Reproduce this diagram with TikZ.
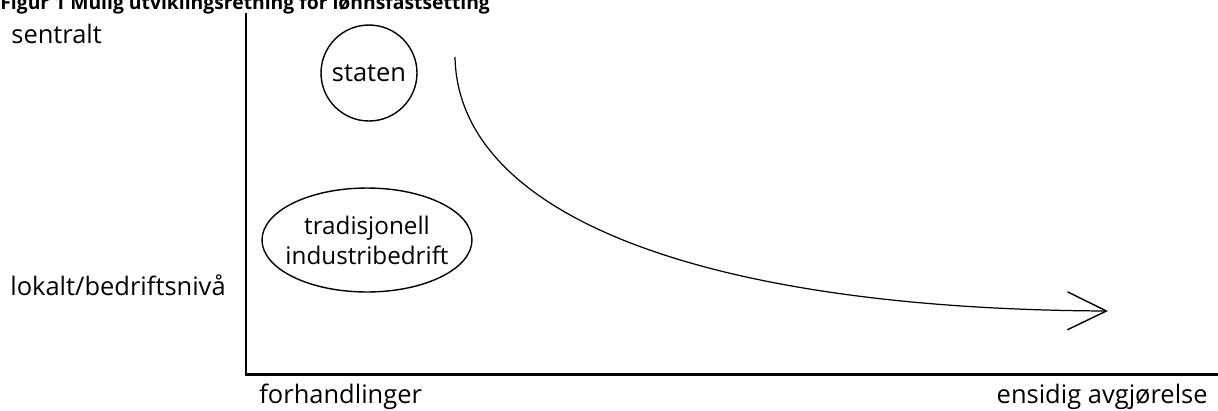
\documentclass[tikz,border=0pt]{standalone}
\usepackage{fontspec}
\setmainfont{Open Sans}
\usetikzlibrary{arrows.meta, positioning, shapes.geometric}
\tikzset{
  every picture/.style={font=\fontsize{14.5}{17}\selectfont},
  axis/.style={line width=1.7pt},
  blob/.style={draw, line width=0.8pt, align=center, inner sep=0pt},
  label/.style={inner sep=0pt},
  trend/.style={-{Straight Barb[length=0.78cm, width=0.76cm, line width=0.8pt]}, line width=0.7pt},
}

\begin{document}
\begin{tikzpicture}[x=0.02cm, y=-0.02cm]
  \useasboundingbox (0,0) rectangle (1218,410);
  % title, cut off at the top edge
  \node[label, anchor=base west, font=\fontsize{11}{13}\selectfont\bfseries] (title) at (0,9) {Figur 1 Mulig utviklingsretning for lønnsfastsetting};
  % axes
  \coordinate (top) at (246,13);
  \coordinate (origin) at (246,374);
  \coordinate (right) at (1218,374);
  \draw[axis] (top) -- (origin) -- (right);
  % axis texts
  \node[label, anchor=base west] (sentral) at (11,43) {sentralt};
  \node[label, anchor=base west] (lokal) at (10,295) {lokalt/bedriftsnivå};
  \node[label, anchor=base west] (forh) at (259,403) {forhandlinger};
  \node[label, anchor=base east] (ensidig) at (1208,403) {ensidig avgjørelse};
  % the two actors
  \node[blob, circle, minimum size=1.92cm] (staten) at (369,73) {staten};
  \node[blob, ellipse, inner xsep=-0.3cm, minimum width=4.2cm, minimum height=2.08cm,
        font=\fontsize{13.8}{17}\selectfont] (bedrift) at (367,240) {tradisjonell\\industribedrift};
  % direction of change
  \coordinate (start) at (455,57);
  \coordinate (end) at (1108,311);
  \draw[trend] (start) .. controls (458,215) and (700,309) .. (end);
\end{tikzpicture}
\end{document}
